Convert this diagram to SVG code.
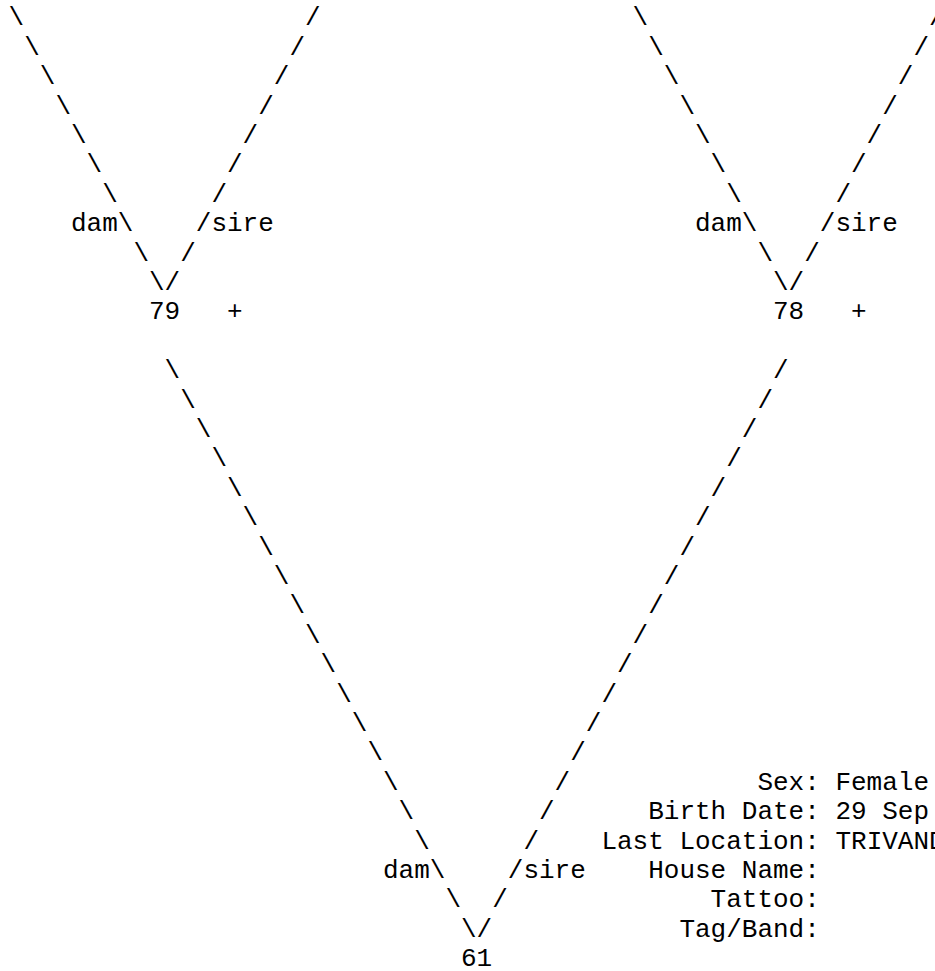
<svg xmlns="http://www.w3.org/2000/svg" width="935" height="971" viewBox="0 0 935 971">
<style>
text{font-family:"Courier New","Nimbus Mono PS","Nimbus Mono L",FreeMono,Courier,"Liberation Mono",monospace;font-size:26px;fill:#000}
</style>
<rect width="935" height="971" fill="#fff"/>
<g id="connectors">
<text x="8.6 24.2 39.8 55.4 71 86.6 102.2 117.8 133.4 149" y="25.3 54.7 84.1 113.5 142.9 172.3 201.7 231.1 260.5 289.9">\\\\\\\\\\</text>
<text x="305 289.4 273.8 258.2 242.6 227 211.4 195.8 180.2 164.6" y="25.3 54.7 84.1 113.5 142.9 172.3 201.7 231.1 260.5 289.9">//////////</text>
<text x="632.6 648.2 663.8 679.4 695 710.6 726.2 741.8 757.4 773" y="25.3 54.7 84.1 113.5 142.9 172.3 201.7 231.1 260.5 289.9">\\\\\\\\\\</text>
<text x="929 913.4 897.8 882.2 866.6 851 835.4 819.8 804.2 788.6" y="25.3 54.7 84.1 113.5 142.9 172.3 201.7 231.1 260.5 289.9">//////////</text>
<text x="164.6 180.2 195.8 211.4 227 242.6 258.2 273.8 289.4 305 320.6 336.2 351.8 367.4 383 398.6 414.2 429.8 445.4 461" y="378.1 407.5 436.9 466.3 495.7 525.1 554.5 583.9 613.3 642.7 672.1 701.5 730.9 760.3 789.7 819.1 848.5 877.9 907.3 936.7">\\\\\\\\\\\\\\\\\\\\</text>
<text x="773 757.4 741.8 726.2 710.6 695 679.4 663.8 648.2 632.6 617 601.4 585.8 570.2 554.6 539 523.4 507.8 492.2 476.6" y="378.1 407.5 436.9 466.3 495.7 525.1 554.5 583.9 613.3 642.7 672.1 701.5 730.9 760.3 789.7 819.1 848.5 877.9 907.3 936.7">////////////////////</text>
<text x="71" y="231.1">dam</text>
<text x="211.4" y="231.1">sire</text>
<text x="695" y="231.1">dam</text>
<text x="835.4" y="231.1">sire</text>
<text x="383" y="877.9">dam</text>
<text x="523.4" y="877.9">sire</text>
</g>
<g id="node-79">
<text x="149" y="319.3">79</text>
<text x="227" y="319.3">+</text>
</g>
<g id="node-78">
<text x="773" y="319.3">78</text>
<text x="851" y="319.3">+</text>
</g>
<g id="node-61">
<text x="461" y="966.1">61</text>
</g>
<g id="info-61">
<text x="757.4" y="789.7">Sex: Female</text>
<text x="648.2" y="819.1">Birth Date: 29 Sep</text>
<text x="601.4" y="848.5">Last Location: TRIVAND</text>
<text x="648.2" y="877.9">House Name:</text>
<text x="710.6" y="907.3">Tattoo:</text>
<text x="679.4" y="936.7">Tag/Band:</text>
</g>
</svg>
